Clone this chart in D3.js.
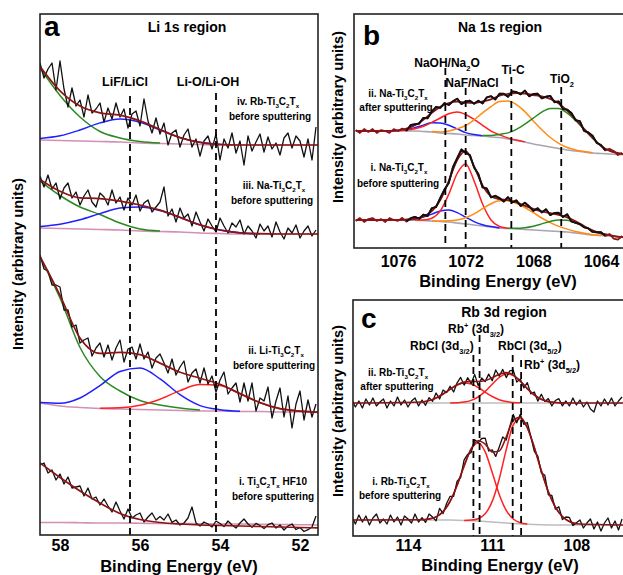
<!DOCTYPE html>
<html>
<head>
<meta charset="utf-8">
<script src="https://cdn.jsdelivr.net/npm/d3@7"></script>
<style>
  body { margin: 0; background: #fff; }
  text { font-family: "Liberation Sans", Arial, sans-serif; font-weight: bold; fill: #000; }
</style>
</head>
<body>
<div id="chart"></div>
<script>
// ---------- panel a : Li 1s (binding energy eV, intensity a.u.) ----------
const aTicks = [58, 56, 54, 52];
const aFitE = [58.5, 58, 57.5, 57, 56.5, 56, 55.5, 55, 54.5, 54, 53.5, 53, 52.5, 52, 51.5];
const aStart = 58.5, aStep = 0.1;

const ivBase  = [395, 394.5, 394, 393.5, 393, 392, 391.5, 391, 390.5, 390, 390, 390, 390, 390, 390];
const ivGreen = [72, 45, 24, 10, 4, 1.5, 0.5, 0, 0, 0, 0, 0, 0, 0, 0];
const ivBlue  = [1.5, 4.7, 11, 18.6, 22.9, 20.6, 13.5, 6.4, 2.2, 0.6, 0, 0, 0, 0, 0];
const ivFit   = [468.5, 444.2, 429, 422.1, 419.9, 414.1, 405.5, 397.4, 392.7, 390.6, 390, 390, 390, 390, 390];
const ivData  = [472,457,466,472,445,474,446,428,447,429,435,418,440,422,426,432,413,427,416,432,
                 418,426,407,421,424,409,436,414,402,417,401,412,390,402,405,388,400,406,388,396,
                 379,394,399,386,401,375,396,387,402,382,394,370,399,384,393,401,383,398,386,392,
                 380,397,402,387,399,394,378,396,375,408];

const iiiBase  = [307, 306.5, 306, 305.5, 305, 304, 303.5, 303, 302, 301.5, 301, 301, 301, 301, 301];
const iiiGreen = [47, 33, 22, 15, 7, 2, 0.5, 0, 0, 0, 0, 0, 0, 0, 0];
const iiiBlue  = [1.6, 4.3, 9.2, 15.9, 21.9, 24, 20.9, 14.6, 8.1, 3.5, 1.2, 0.3, 0, 0, 0];
const iiiFit   = [355.6, 343.8, 337.2, 336.4, 333.9, 330, 324.9, 317.6, 310.1, 305, 302.2, 301.3, 301, 301, 301];
const iiiData  = [359,348,360,346,352,336,347,352,337,343,330,339,345,333,328,342,338,330,345,332,
                  338,325,337,330,340,324,332,335,323,328,333,348,319,326,313,327,317,321,309,323,
                  313,304,316,309,303,317,309,302,312,308,315,301,309,304,297,311,304,309,298,313,
                  303,296,307,302,310,297,304,309,299,305];

const iiBase  = [132, 129, 127.5, 126.5, 126, 125.5, 125, 124.5, 124, 124, 123.5, 123.5, 123, 123, 122.5];
const iiGreen = [146, 108, 60, 32, 18, 9, 5, 2.5, 1, 0, 0, 0, 0, 0, 0];
const iiBlue  = [0.5, 2.7, 9.5, 22.9, 37.5, 41.5, 31.1, 15.8, 5.4, 1.3, 0.2, 0, 0, 0, 0];
const iiRed   = [0, 0, 0, 0.3, 1.2, 4.3, 10.8, 19.9, 26.4, 25.4, 17.7, 8.9, 3.3, 0.9, 0.2];
const iiFit   = [278.5, 239.7, 197, 181.7, 182.7, 180.3, 171.9, 162.7, 156.8, 150.7, 141.4, 132.4, 126.3, 123.9, 122.7];
const iiData  = [280,266,264,250,250,248,225,225,208,210,192,195,197,179,187,192,178,190,175,187,
                 195,173,186,188,176,191,176,183,167,177,181,172,162,176,160,168,174,153,162,166,
                 152,167,151,159,143,155,163,141,147,152,133,152,134,152,124,137,134,148,117,134,
                 147,118,139,107,131,144,115,135,118,131];

const iBase = [12.5, 12.5, 12.3, 12, 12, 11.8, 11.5, 11.5, 11.2, 11, 11, 10.8, 10.5, 10.3, 10];
const iFit  = [72, 57.5, 44, 32, 21.5, 15.5, 12.5, 11, 10, 9.5, 9, 8.5, 8, 7.5, 7];
const iData = [70,72,62,65,55,61,51,58,47,48,49,39,47,36,38,30,36,29,23,33,
               24,16,26,17,20,22,13,18,22,15,18.5,15,21,12.6,15,10,12,17,28,12,
               9,13,11,8,14,11.5,8.4,14,10,7,12,16,11,7.7,11.6,9.5,6.4,10.3,12,7,
               10,5,9,11,5.5,7.5,3.5,5.3,8,19];

const aMarkE = [56.25, 54.1];
const aMarkTop = [439, 442];

// ---------- panel b : Na 1s ----------
const bTicks = [1076, 1072, 1068, 1064];
const bFitE = [1078.5, 1078, 1077.5, 1077, 1076.5, 1076, 1075.5, 1075, 1074.5, 1074, 1073.5, 1073, 1072.5,
               1072, 1071.5, 1071, 1070.5, 1070, 1069.5, 1069, 1068.5, 1068, 1067.5, 1067, 1066.5, 1066,
               1065.5, 1065, 1064.5, 1064, 1063.5, 1063, 1062.5];
const bStart = 1078.5, bStep = 0.25;

const bIIBase   = [117,117,117,117,117,117,117,117,116.5,116,115,114.5,114,113,112.5,112,111,110.5,109,107.5,106,104,102.5,101,99.5,98,97,96,95,94.5,94,93.5,93];
const bIIBlue   = [0,0,0,0,0.1,0.4,1.4,3.4,6.4,9.2,10,8.2,5.1,2.4,0.9,0.2,0,0,0,0,0,0,0,0,0,0,0,0,0,0,0,0,0];
const bIIRed    = [0,0,0,0,0,0.3,0.9,2.3,5.2,9.6,15,19.8,22,20.5,16.1,10.7,5.9,2.8,1.1,0.4,0.1,0,0,0,0,0,0,0,0,0,0,0,0];
const bIIOrange = [0,0,0,0,0,0,0,0,0,0.5,1.1,2.5,5.2,9.5,15.7,23.1,30.4,35.9,38,35.9,30.4,23.1,15.7,9.5,5.2,2.5,1.1,0.5,0.2,0,0,0,0];
const bIIGreen  = [0,0,0,0,0,0,0,0,0,0,0,0,0,0,0,0.6,1.4,3.1,6.1,11.2,17.9,25.9,33.4,38.6,39.9,36.9,30.6,22.6,15,7.5,3.3,1.4,0.5];
const bIIFit    = [117,117,117,117,117.1,117.7,119.3,122.7,128.1,135.3,141.1,145,146.3,145.4,145.2,146.6,148.7,152.3,154.2,155,154.4,153,151.6,149.1,144.6,137.4,128.7,119.1,110.2,102,97.3,94.9,93.5];
const bIIData   = [118,115,119,116,119,115,118,117,115,119,117,119.5,117.3,123,123.7,124.4,130.1,129.7,136.3,141.2,
                   140.1,145,143,146.7,149.3,143.9,146.4,147.3,144.3,147.2,144.6,150.6,151.8,148.5,154.3,154.2,151.2,156.6,156,153.7,
                   157.4,151.7,154,154.3,149.6,151.3,152.1,145.8,146.6,139,138.4,135,127.7,126.9,117.1,115.6,112.2,105.1,103,97.6,
                   99.3,97.1,92.9,95.2];

const bIBase   = [28,28,28,28,28,28,28,27.8,27.5,27,26.5,26,25,24,23,22,21,20,19.5,19,18.5,18,17.5,17,16.5,16,15,14,13,12.5,12,11,10.5];
const bIBlue   = [0,0,0,0,0,0.1,0.4,1.3,3.4,6.9,10.4,12,10.4,6.9,3.4,1.3,0.4,0.1,0,0,0,0,0,0,0,0,0,0,0,0,0,0,0];
const bIRed    = [0,0,0,0,0,0,0,0.1,0.5,2.8,10.6,27.8,49.5,60,44,22,7,1.5,0.3,0,0,0,0,0,0,0,0,0,0,0,0,0,0];
const bIOrange = [0,0,0,0,0,0,0,0,0,0.1,0.5,1.2,3,6.2,11.1,17.3,23.3,27.3,27.8,25.8,22,17.3,12.5,8.3,5.1,2.9,1.5,0.7,0.3,0.1,0,0,0];
const bIGreen  = [0,0,0,0,0,0,0,0,0,0,0,0,0,0,0,0,0,0,0.2,0.7,1.8,3.8,6.6,9.6,11.6,11.8,10.1,7.2,4.3,2.1,0.9,0.3,0.1];
const bIFit    = [28,28,28,28,28,28.1,28.4,29.2,31.4,36.8,48,67,87.9,97.1,81.5,62.6,51.7,48.9,47.8,45.6,42.3,39.1,36.6,34.9,33.2,30.7,26.6,21.9,17.6,14.7,12.9,11.3,10.6];
const bIData   = [27,30,26,29,30,27,29,26,30,28,27.1,30.2,26.4,29.8,31.2,29.3,33.4,32,39.8,41,
                  50,58.5,65,81,89.9,98.5,95.1,93,80.5,74,60.6,59.5,50.7,52.2,49.9,46.4,50.8,45.7,47.6,42,
                  45.3,41.7,37.1,39.8,35.6,38.7,32.9,35,35.2,31,33.7,26.6,25.2,23.9,20.7,19.6,16.1,15.7,15.8,12.1,
                  14.1,9.3,8.3,12];
const bBlackRange = [1075.5, 1063.75];

const bMarkE = [1073.2, 1072.0, 1069.3, 1066.35];
const bMarkTop = [180, 160, 171, 161];

// ---------- panel c : Rb 3d ----------
const cTicks = [114, 111, 108];
const cFitE = [116, 113.5, 113.25, 113, 112.75, 112.5, 112.25, 112, 111.75, 111.5, 111.25, 111, 110.75,
               110.5, 110.25, 110, 109.75, 109.5, 109.25, 109, 108.75, 108.5, 108.25, 108, 106.25];
const cStart = 116, cStep = 0.125;

const cIIBase = [133,133,133,133,133,133,133,133,133,133,133,133,133,133,133,133,133,133,133,133,133,133,133,133,133];
const cIIR1   = [0,1,2.4,5,9,13.7,17.9,20,19,15.5,10.8,6.5,3.3,1.4,0.5,0.2,0,0,0,0,0,0,0,0,0];
const cIIR2   = [0,0,0,0,0,0.1,0.3,0.9,2.6,6,11.6,18.8,25.5,29,27.4,21.7,14.4,8,3.7,1.4,0.5,0.1,0,0,0];
const cIIFit  = [133,134,135.4,138,142,146.8,151.2,153.9,154.6,154.5,155.4,158.3,161.8,163.4,160.9,154.9,147.4,141,136.7,134.4,133.5,133.1,133,133,133];
const cIIData = [136,129,135,128,137,131,138,130,134,137,128,135,130,139,131,136,129,135,138,130,
                 136,130.7,138.4,134.7,143,137,146,143.4,149.7,144,153.2,158.6,150.9,158.3,152.6,161.6,150.5,158,154.4,161.9,
                 155.3,166,159.8,166.6,158.4,165.2,165.9,153.9,156.9,148.2,153.4,142.2,144,134.9,141.7,134.6,137.4,130,135.5,137.3,
                 130.1,135,130,138,131,136,129,134,127,124,135,130,137,131,138,130,135,139];

const cIBase = [16,16,16,16,16,16,15.8,15.5,15.3,15,14.5,14,13.5,13,12.5,12,11.8,11.5,11.2,11,11,11,11,11,11];
const cIR1   = [0,0.3,1,3.1,8.4,18.7,35,54.6,71.4,78,69.6,49.5,28.1,12.6,4.5,1.3,0.3,0,0,0,0,0,0,0,0];
const cIR2   = [0,0,0,0,0,0,0,0.1,0.6,2.3,7.7,20.6,43.5,73.4,98.6,105.5,96.4,77.1,54,33.2,17.9,8.5,3.5,1.3,0];
const cIFit  = [16,16.3,17,19.1,24.4,34.7,50.8,70.2,87.3,95.3,91.8,84.1,85.1,99,115.6,118.8,108.5,88.6,65.2,44.2,28.9,19.5,14.5,12.3,11];
const cIData = [19,12,21,14,20,11,18,22,13,17,12,21,14,19,11,20,17,13,22,14,
                18.3,13.6,22,19,15.1,27.7,22.4,32.5,39.7,39.7,54.8,58.5,76.2,81.7,83.3,96.3,93.3,97.5,97.8,85,
                86.1,79.6,89.1,99,96,109.3,121.6,113.2,121.8,111.6,113.5,99.5,84.6,79.9,63.2,60.7,41.2,40.5,26.9,29.2,
                16.5,19,18.5,10.4,13.3,16,8,13,17,7,14,5,13,18,8,15,6,17];

const cMarkE = [111.67, 111.45, 110.27, 109.97];
const cMarkTop = [181, 201, 181, 176];

// ---------- drawing ----------
const W = 623, H = 575;
const COL = { data: "#111", fit: "#8b1414", blue: "#1f1fff", green: "#2a8a22", red: "#ff2020", orange: "#ff8c14" };

const svg = d3.select("#chart").append("svg").attr("width", W).attr("height", H);
svg.append("rect").attr("width", W).attr("height", H).attr("fill", "#fff");

function makePanel(id, box, xDom, yDom) {
  const x = d3.scaleLinear().domain(xDom).range([box.x0, box.x1]);
  const y = d3.scaleLinear().domain(yDom).range([box.y1, box.y0]);
  svg.append("clipPath").attr("id", "clip-" + id)
    .append("rect").attr("x", box.x0).attr("y", box.y0)
    .attr("width", box.x1 - box.x0).attr("height", box.y1 - box.y0);
  const g = svg.append("g");
  const plot = g.append("g").attr("clip-path", `url(#clip-${id})`);
  return { x, y, g, plot, box };
}

function pts(E, vals) { return vals.map((v, i) => [E[i], v]); }
function stepPts(start, step, vals) { return vals.map((v, i) => [start - i * step, v]); }

function drawLine(p, points, color, width, opts = {}) {
  const line = d3.line()
    .x(d => p.x(d[0])).y(d => p.y(d[1]))
    .curve(opts.smooth ? d3.curveMonotoneX : d3.curveLinear);
  if (opts.defined) line.defined(opts.defined);
  p.plot.append("path").datum(points)
    .attr("d", line).attr("fill", "none")
    .attr("stroke", color).attr("stroke-width", width)
    .attr("stroke-linejoin", "round");
}

// component sitting on its background
function drawComponent(p, E, base, h, color) {
  const points = h.map((v, i) => [E[i], base[i] + v, v]);
  drawLine(p, points, color, 1.5, { smooth: true, defined: d => d[2] > 0.05 });
}

function drawMarkers(p, E, tops) {
  E.forEach((e, i) => {
    p.g.append("line")
      .attr("x1", p.x(e)).attr("x2", p.x(e))
      .attr("y1", p.y(tops[i])).attr("y2", p.box.y1)
      .attr("stroke", "#000").attr("stroke-width", 1.8)
      .attr("stroke-dasharray", "7,5");
  });
}

function drawAxis(p, ticks, pad) {
  const ax = p.g.append("g").attr("transform", `translate(0,${p.box.y1})`)
    .call(d3.axisBottom(p.x).tickValues(ticks).tickSize(0).tickPadding(pad).tickFormat(d3.format("d")));
  ax.select(".domain").remove();
  ax.selectAll("text").attr("font-size", 16).attr("font-family", '"Liberation Sans", Arial, sans-serif')
    .attr("font-weight", "bold").attr("fill", "#000");
}

function drawFrame(p, right) {
  p.g.append("rect").attr("x", p.box.x0).attr("y", p.box.y0)
    .attr("width", right - p.box.x0).attr("height", p.box.y1 - p.box.y0)
    .attr("fill", "none").attr("stroke", "#222").attr("stroke-width", 1.6);
}

// text with sub (1) / super (2) scripts
function richText(g, x, y, parts, size, anchor) {
  const t = g.append("text").attr("x", x).attr("y", y)
    .attr("font-size", size).attr("text-anchor", anchor || "middle");
  let shift = 0;
  parts.forEach(part => {
    const [str, kind] = typeof part === "string" ? [part, 0] : part;
    const target = kind === 1 ? size * 0.32 : kind === 2 ? -size * 0.42 : 0;
    t.append("tspan").attr("dy", target - shift)
      .attr("font-size", kind ? size * 0.62 : size).text(str);
    shift = target;
  });
  return t;
}

function plainText(g, x, y, str, size, anchor) {
  return g.append("text").attr("x", x).attr("y", y).attr("font-size", size)
    .attr("text-anchor", anchor || "middle").text(str);
}

function yTitle(g, x, y) {
  g.append("text").attr("transform", `translate(${x},${y}) rotate(-90)`)
    .attr("text-anchor", "middle").attr("font-size", 14.6).text("Intensity (arbitrary units)");
}

const tix = s => [s, ["3", 1], "C", ["2", 1], "T", ["x", 1]];

// ===== panel a =====
const pa = makePanel("a", { x0: 40, x1: 318, y0: 14, y1: 535 }, [58.5, 51.55], [0, 521]);
[
  { base: ivBase, comps: [[ivGreen, COL.green], [ivBlue, COL.blue]], fit: ivFit, data: ivData },
  { base: iiiBase, comps: [[iiiGreen, COL.green], [iiiBlue, COL.blue]], fit: iiiFit, data: iiiData },
  { base: iiBase, comps: [[iiGreen, COL.green], [iiBlue, COL.blue], [iiRed, COL.red]], fit: iiFit, data: iiData },
  { base: iBase, comps: [], fit: iFit, data: iData }
].forEach(s => {
  drawLine(pa, pts(aFitE, s.base), "#d291b4", 1.6, { smooth: true });
  s.comps.forEach(c => drawComponent(pa, aFitE, s.base, c[0], c[1]));
  drawLine(pa, stepPts(aStart, aStep, s.data), COL.data, 1.3);
  drawLine(pa, pts(aFitE, s.fit), COL.fit, 1.7, { smooth: true });
});
drawMarkers(pa, aMarkE, aMarkTop);
drawFrame(pa, 318);
drawAxis(pa, aTicks, 5);
plainText(pa.g, 44, 36, "a", 28, "start");
plainText(pa.g, 187, 32, "Li 1s region", 14);
plainText(pa.g, 125, 86, "LiF/LiCl", 12.5);
plainText(pa.g, 208, 86, "Li-O/Li-OH", 12.5);
richText(pa.g, 268, 105, tix("iv. Rb-Ti"), 10);
plainText(pa.g, 270, 120, "before sputtering", 10);
richText(pa.g, 274, 189, tix("iii. Na-Ti"), 10);
plainText(pa.g, 272, 204, "before sputtering", 10);
richText(pa.g, 276, 354, tix("ii. Li-Ti"), 10);
plainText(pa.g, 274, 369, "before sputtering", 10);
richText(pa.g, 273, 485, ["i. Ti", ["3", 1], "C", ["2", 1], "T", ["x", 1], " HF10"], 10);
plainText(pa.g, 273, 500, "before sputtering", 10);
plainText(pa.g, 179, 572, "Binding Energy (eV)", 16.5);
yTitle(pa.g, 23, 264);

// ===== panel b =====
const pb = makePanel("b", { x0: 354, x1: 623, y0: 14, y1: 248 }, [1078.6, 1062.7], [0, 234]);
[
  { base: bIIBase, comps: [[bIIBlue, COL.blue], [bIIRed, COL.red], [bIIOrange, COL.orange], [bIIGreen, COL.green]], fit: bIIFit, data: bIIData },
  { base: bIBase, comps: [[bIBlue, COL.blue], [bIRed, COL.red], [bIOrange, COL.orange], [bIGreen, COL.green]], fit: bIFit, data: bIData }
].forEach(s => {
  drawLine(pb, pts(bFitE, s.base), "#aaa3b3", 1.6, { smooth: true });
  s.comps.forEach(c => drawComponent(pb, bFitE, s.base, c[0], c[1]));
  drawLine(pb, pts(bFitE, s.fit), COL.fit, 1.8, { smooth: true });
  const dp = stepPts(bStart, bStep, s.data);
  drawLine(pb, dp, COL.fit, 1.7);
  drawLine(pb, dp, COL.data, 1.9, { defined: d => d[0] <= bBlackRange[0] && d[0] >= bBlackRange[1] });
});
drawMarkers(pb, bMarkE, bMarkTop);
drawFrame(pb, 640);
drawAxis(pb, bTicks, 8);
plainText(pb.g, 363, 45, "b", 28, "start");
plainText(pb.g, 500, 32, "Na 1s region", 14);
richText(pb.g, 447, 67, ["NaOH/Na", ["2", 1], "O"], 12);
plainText(pb.g, 472, 87, "NaF/NaCl", 12);
plainText(pb.g, 513, 74, "Ti-C", 12);
richText(pb.g, 562, 83, ["TiO", ["2", 1]], 12);
richText(pb.g, 398, 97, tix("ii. Na-Ti"), 10);
plainText(pb.g, 396, 111, "after sputtering", 10);
richText(pb.g, 399, 171, tix("i. Na-Ti"), 10);
plainText(pb.g, 398, 187, "before sputtering", 10);
plainText(pb.g, 498, 287, "Binding Energy (eV)", 16.5);
yTitle(pb.g, 343, 117);

// ===== panel c =====
const pc = makePanel("c", { x0: 353, x1: 623, y0: 300, y1: 536 }, [115.96, 106.34], [0, 236]);
[
  { base: cIIBase, comps: [[cIIR1, COL.red], [cIIR2, COL.red]], fit: cIIFit, data: cIIData },
  { base: cIBase, comps: [[cIR1, COL.red], [cIR2, COL.red]], fit: cIFit, data: cIData }
].forEach(s => {
  drawLine(pc, pts(cFitE, s.base), "#bdbdbd", 1.6);
  s.comps.forEach(c => drawComponent(pc, cFitE, s.base, c[0], c[1]));
  drawLine(pc, stepPts(cStart, cStep, s.data), COL.data, 1.3);
  drawLine(pc, pts(cFitE, s.fit), COL.fit, 1.6, { smooth: true });
});
drawMarkers(pc, cMarkE, cMarkTop);
drawFrame(pc, 640);
drawAxis(pc, cTicks, 4);
plainText(pc.g, 361, 328, "c", 28, "start");
plainText(pc.g, 504, 317, "Rb 3d region", 14);
richText(pc.g, 448, 333, ["Rb", ["+", 2], " (3d", ["3/2", 1], ")"], 12, "start");
richText(pc.g, 410, 350, ["RbCl (3d", ["3/2", 1], ")"], 12, "start");
richText(pc.g, 498, 350, ["RbCl (3d", ["5/2", 1], ")"], 12, "start");
richText(pc.g, 524, 369, ["Rb", ["+", 2], " (3d", ["5/2", 1], ")"], 12, "start");
richText(pc.g, 398, 376, tix("ii. Rb-Ti"), 10);
plainText(pc.g, 397, 390, "after sputtering", 10);
richText(pc.g, 401, 485, tix("i. Rb-Ti"), 10);
plainText(pc.g, 400, 499, "before sputtering", 10);
plainText(pc.g, 500, 571, "Binding Energy (eV)", 16.5);
yTitle(pc.g, 343, 411);
</script>
</body>
</html>
